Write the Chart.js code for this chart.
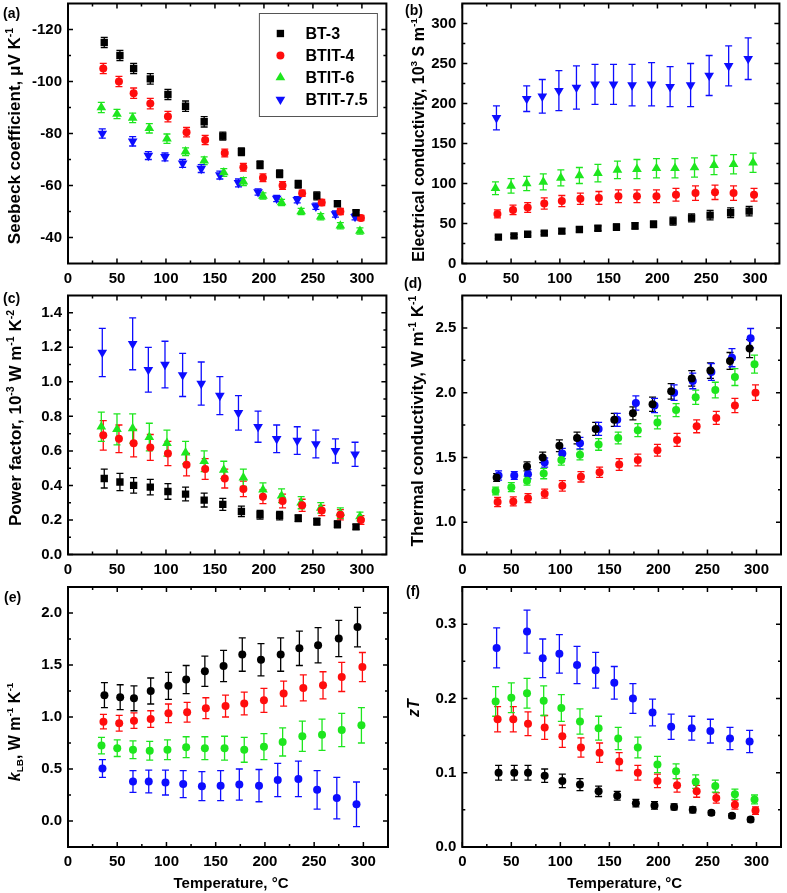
<!DOCTYPE html>
<html>
<head>
<meta charset="utf-8">
<title>Thermoelectric properties</title>
<script src="https://cdn.jsdelivr.net/npm/chart.js@4.4.1/dist/chart.umd.min.js"></script>
<style>
    body { margin: 0; background: #fff; width: 787px; height: 893px; position: relative; overflow: hidden; }
    canvas { position: absolute; }
    .tag { position: absolute; font: bold 14px/14px "Liberation Sans", Arial, sans-serif; color: #000; z-index: 5; }
</style>
</head>
<body>
<canvas id="pa"></canvas>
<canvas id="pb"></canvas>
<canvas id="pc"></canvas>
<canvas id="pd"></canvas>
<canvas id="pe"></canvas>
<canvas id="pf"></canvas>
<div class="tag" style="left:3px;top:6px">(a)</div>
<div class="tag" style="left:405px;top:3px">(b)</div>
<div class="tag" style="left:3px;top:291px">(c)</div>
<div class="tag" style="left:404px;top:276px">(d)</div>
<div class="tag" style="left:4px;top:590px">(e)</div>
<div class="tag" style="left:406px;top:584px">(f)</div>
<script>
// ========== DATA ==========
const sampleNames = ['BT-3', 'BTIT-4', 'BTIT-6', 'BTIT-7.5'];

// measurement temperatures (°C), one list per point pattern
const tempsA = [37, 53, 67, 84, 102, 120, 139, 158, 177, 196, 216, 235, 254, 275, 294];
const tempsB = [36, 52, 67, 84, 102, 121, 140, 160, 179, 199, 219, 239, 259, 278, 299];
const tempsC = [34, 50, 66, 83, 101, 120, 139, 159, 179, 199, 218, 238, 258, 278, 298];
const tempsD = [35, 66, 82, 99, 117, 136, 155, 174, 194, 213, 234, 253, 273, 293];

// tick labels
const tempTicks = [0, 50, 100, 150, 200, 250, 300];
const seebeckTicks = [-120, -100, -80, -60, -40];
const sigmaTicks = [0, 50, 100, 150, 200, 250, 300];
const pfTicks = [0, 0.2, 0.4, 0.6, 0.8, 1.0, 1.2, 1.4];
const kappaTicks = [1.0, 1.5, 2.0, 2.5];
const klbTicks = [0, 0.5, 1.0, 1.5, 2.0];
const ztTicks = [0, 0.1, 0.2, 0.3];

// (a) Seebeck coefficient
const seebeckBT3 = [-115, -110, -105, -101, -95, -90.5, -84.5, -79, -73, -68, -64.5, -60.5, -56, -53, -49.5];
const seebeckBTIT4 = [-105, -100, -95.5, -91.5, -86.5, -80.5, -77.5, -72.5, -67, -63, -60, -57, -53.5, -50, -47.5];
const seebeckBTIT6 = [-90, -87.5, -86, -82, -78, -73, -69.5, -65, -61.5, -56, -53.5, -50, -48, -44.5, -42.5];
const seebeckBTIT75 = [-80, -77, -71.5, -71, -68.5, -66.5, -64, -61, -57.5, -55, -54.5, -52, -49, -48];
const seebeckErrBT3 = [2, 2, 2, 2, 2, 2, 2, 1.5, 1.5, 1.5, 1.5, 1.5, 1.5, 1, 1];
const seebeckErrBTIT4 = [2, 2, 2, 2, 2, 1.8, 1.8, 1.5, 1.5, 1.5, 1.5, 1.2, 1.2, 1.2, 1];
const seebeckErrBTIT6 = [2, 1.8, 1.8, 1.8, 1.8, 1.5, 1.5, 1.5, 1.5, 1.2, 1.2, 1.2, 1.2, 1.2, 1.2];
const seebeckErrBTIT75 = [1.8, 1.8, 1.5, 1.5, 1.5, 1.5, 1.5, 1.5, 1.2, 1.2, 1.2, 1.2, 1.2, 1.2];

// (b) Electrical conductivity
const sigmaBT3 = [33, 34.5, 36.5, 38, 40.5, 42.5, 44, 45.5, 47, 49, 53, 57, 60.5, 63.5, 65.5];
const sigmaBTIT4 = [62, 67, 70, 75, 78, 81, 82, 84, 84, 84, 86, 88, 89, 88, 86];
const sigmaBTIT6 = [94, 97, 100, 102, 107, 110, 113, 117, 118, 119, 119, 120, 123, 124, 126];
const sigmaBTIT75 = [182, 206, 209, 216, 220, 224, 224, 223, 224, 221, 223, 235, 247, 256];
const sigmaErrBT3 = [2, 2, 2, 2, 3, 3, 3, 4, 4, 4, 5, 5, 6, 6, 6];
const sigmaErrBTIT4 = [5, 6, 6, 7, 7, 7, 8, 8, 8, 8, 8, 9, 9, 9, 8];
const sigmaErrBTIT6 = [8, 9, 9, 10, 10, 10, 11, 11, 12, 12, 12, 12, 12, 12, 12];
const sigmaErrBTIT75 = [15, 16, 21, 25, 27, 25, 25, 26, 27, 25, 27, 25, 25, 26];

// (c) Power factor
const pfBT3 = [0.44, 0.42, 0.40, 0.39, 0.365, 0.35, 0.315, 0.29, 0.25, 0.23, 0.225, 0.21, 0.19, 0.175, 0.16];
const pfBTIT4 = [0.69, 0.67, 0.645, 0.62, 0.585, 0.52, 0.495, 0.44, 0.38, 0.335, 0.31, 0.285, 0.255, 0.23, 0.20];
const pfBTIT6 = [0.74, 0.725, 0.73, 0.68, 0.645, 0.59, 0.54, 0.49, 0.445, 0.375, 0.34, 0.30, 0.27, 0.24, 0.22];
const pfBTIT75 = [1.17, 1.22, 1.07, 1.10, 1.04, 0.99, 0.92, 0.82, 0.74, 0.67, 0.66, 0.64, 0.60, 0.58];
const pfErrBT3 = [0.055, 0.05, 0.045, 0.045, 0.045, 0.04, 0.04, 0.035, 0.03, 0.025, 0.025, 0.02, 0.02, 0.02, 0.015];
const pfErrBTIT4 = [0.085, 0.08, 0.08, 0.075, 0.07, 0.065, 0.06, 0.055, 0.045, 0.04, 0.04, 0.035, 0.03, 0.03, 0.025];
const pfErrBTIT6 = [0.085, 0.09, 0.085, 0.08, 0.075, 0.065, 0.06, 0.05, 0.05, 0.04, 0.04, 0.035, 0.03, 0.03, 0.025];
const pfErrBTIT75 = [0.14, 0.15, 0.13, 0.135, 0.125, 0.125, 0.11, 0.10, 0.09, 0.08, 0.08, 0.08, 0.07, 0.07];

// (d) Thermal conductivity (black has 14 points, blue 15 in this panel)
const kappaBT3 = [1.345, 1.43, 1.50, 1.59, 1.65, 1.72, 1.79, 1.84, 1.91, 2.01, 2.11, 2.17, 2.245, 2.34];
const kappaBTIT4 = [1.155, 1.16, 1.185, 1.22, 1.28, 1.35, 1.385, 1.445, 1.48, 1.555, 1.635, 1.74, 1.805, 1.90, 2.0];
const kappaBTIT6 = [1.24, 1.27, 1.32, 1.375, 1.48, 1.52, 1.60, 1.65, 1.71, 1.77, 1.865, 1.965, 2.02, 2.12, 2.22];
const kappaBTIT75 = [1.36, 1.36, 1.37, 1.46, 1.53, 1.61, 1.72, 1.79, 1.92, 1.90, 2.0, 2.09, 2.16, 2.27, 2.42];
const kappaErrBT3 = [0.03, 0.035, 0.04, 0.045, 0.045, 0.05, 0.05, 0.05, 0.055, 0.06, 0.06, 0.06, 0.065, 0.07];
const kappaErrBTIT4 = [0.035, 0.035, 0.035, 0.035, 0.04, 0.04, 0.04, 0.045, 0.045, 0.045, 0.05, 0.05, 0.05, 0.055, 0.06];
const kappaErrBTIT6 = [0.03, 0.035, 0.035, 0.04, 0.04, 0.04, 0.045, 0.045, 0.05, 0.05, 0.05, 0.055, 0.06, 0.065, 0.07];
const kappaErrBTIT75 = [0.035, 0.03, 0.035, 0.035, 0.04, 0.045, 0.05, 0.05, 0.055, 0.055, 0.06, 0.06, 0.065, 0.07, 0.075];

// (e) Lattice + bipolar thermal conductivity
const klbBT3 = [1.21, 1.19, 1.18, 1.25, 1.30, 1.36, 1.44, 1.49, 1.60, 1.55, 1.60, 1.66, 1.69, 1.755, 1.865];
const klbBTIT4 = [0.955, 0.94, 0.965, 0.98, 1.035, 1.045, 1.085, 1.105, 1.13, 1.16, 1.225, 1.28, 1.305, 1.385, 1.48];
const klbBTIT6 = [0.725, 0.70, 0.685, 0.675, 0.685, 0.71, 0.70, 0.70, 0.685, 0.715, 0.76, 0.815, 0.83, 0.875, 0.92];
const klbBTIT75 = [0.505, 0.38, 0.38, 0.37, 0.355, 0.335, 0.34, 0.35, 0.34, 0.395, 0.405, 0.30, 0.22, 0.16];
const klbErrBT3 = [0.12, 0.12, 0.12, 0.125, 0.13, 0.135, 0.145, 0.15, 0.16, 0.155, 0.16, 0.165, 0.17, 0.175, 0.19];
const klbErrBTIT4 = [0.07, 0.075, 0.075, 0.08, 0.09, 0.095, 0.1, 0.105, 0.11, 0.115, 0.12, 0.125, 0.13, 0.14, 0.14];
const klbErrBTIT6 = [0.08, 0.08, 0.085, 0.09, 0.095, 0.1, 0.11, 0.115, 0.12, 0.125, 0.135, 0.145, 0.15, 0.16, 0.17];
const klbErrBTIT75 = [0.085, 0.105, 0.11, 0.12, 0.13, 0.14, 0.145, 0.15, 0.155, 0.16, 0.17, 0.185, 0.2, 0.215];

// (f) Figure of merit zT
const ztBT3 = [0.10, 0.10, 0.10, 0.096, 0.089, 0.084, 0.075, 0.069, 0.059, 0.056, 0.054, 0.05, 0.046, 0.042, 0.037];
const ztBTIT4 = [0.172, 0.172, 0.166, 0.161, 0.149, 0.134, 0.127, 0.115, 0.10, 0.089, 0.083, 0.075, 0.066, 0.057, 0.049];
const ztBTIT6 = [0.196, 0.201, 0.207, 0.197, 0.187, 0.169, 0.16, 0.146, 0.134, 0.111, 0.102, 0.088, 0.082, 0.071, 0.064];
const ztBTIT75 = [0.268, 0.29, 0.254, 0.26, 0.245, 0.238, 0.221, 0.20, 0.181, 0.162, 0.16, 0.156, 0.146, 0.142];
const ztErrBT3 = [0.01, 0.01, 0.01, 0.009, 0.009, 0.008, 0.007, 0.006, 0.005, 0.005, 0.004, 0.004, 0.003, 0.003, 0.003];
const ztErrBTIT4 = [0.017, 0.017, 0.016, 0.016, 0.015, 0.013, 0.013, 0.012, 0.01, 0.009, 0.009, 0.008, 0.007, 0.006, 0.005];
const ztErrBTIT6 = [0.02, 0.02, 0.02, 0.02, 0.018, 0.017, 0.016, 0.015, 0.014, 0.011, 0.01, 0.009, 0.008, 0.007, 0.006];
const ztErrBTIT75 = [0.027, 0.029, 0.026, 0.026, 0.025, 0.024, 0.022, 0.02, 0.018, 0.017, 0.016, 0.016, 0.015, 0.015];

// ========== STYLE ==========
const FONT = '"Liberation Sans", Arial, sans-serif';
const colors = ['#000000', '#ff0d0d', '#1ee61e', '#0d0dff'];

Chart.defaults.font.family = FONT;
Chart.defaults.color = '#000';

function series(idx, temps, values, errors, marker) {
    const style = {
        square: { pointStyle: 'rect', rotation: 0, pointRadius: 5.2 },
        circle: { pointStyle: 'circle', rotation: 0, pointRadius: 4 },
        up: { pointStyle: 'triangle', rotation: 0, pointRadius: 5.6 },
        down: { pointStyle: 'triangle', rotation: 180, pointRadius: 5.6 }
    }[marker];
    return {
        label: sampleNames[idx],
        data: values.map((v, i) => ({ x: temps[i], y: v })),
        errors: errors,
        showLine: false,
        backgroundColor: colors[idx],
        borderColor: colors[idx],
        borderWidth: 0,
        pointBorderWidth: 0,
        pointHoverRadius: style.pointRadius,
        ...style
    };
}

// draw text with super/subscripts, optionally rotated (bottom-to-top)
function drawRich(ctx, segs, size, cx, cy, vertical) {
    const fontFor = s => (s.it ? 'italic ' : '') + 'bold ' + (s.sup || s.sub ? size * 0.62 : size) + 'px ' + FONT;
    let total = 0;
    segs.forEach(s => { ctx.font = fontFor(s); total += ctx.measureText(s.t).width; });
    ctx.save();
    ctx.translate(cx, cy);
    if (vertical) ctx.rotate(-Math.PI / 2);
    ctx.fillStyle = '#000';
    ctx.textBaseline = 'alphabetic';
    ctx.textAlign = 'left';
    let x = -total / 2;
    const base = size * 0.36;
    segs.forEach(s => {
        ctx.font = fontFor(s);
        let y = base;
        if (s.sup) y -= size * 0.4;
        if (s.sub) y += size * 0.22;
        ctx.fillText(s.t, x, y);
        x += ctx.measureText(s.t).width;
    });
    ctx.restore();
}

function tickValues(scale) {
    const major = scale.ticks.map(t => t.value).sort((a, b) => a - b);
    const step = major[1] - major[0];
    const minor = [];
    for (let v = major[0] - step / 2; v <= scale.max + 1e-9; v += step) {
        if (v > scale.min + 1e-9 && v < scale.max - 1e-9) minor.push(v);
    }
    return { major, minor };
}

const framePlugin = {
    id: 'frame',
    beforeDatasetsDraw(chart) {
        // error bars, drawn under the markers
        const ctx = chart.ctx, xs = chart.scales.x, ys = chart.scales.y;
        ctx.save();
        ctx.lineWidth = 1.3;
        chart.data.datasets.forEach(ds => {
            ctx.strokeStyle = ds.borderColor;
            ds.data.forEach((p, i) => {
                const e = ds.errors[i];
                const px = xs.getPixelForValue(p.x);
                const y1 = ys.getPixelForValue(p.y - e);
                const y2 = ys.getPixelForValue(p.y + e);
                ctx.beginPath();
                ctx.moveTo(px, y1); ctx.lineTo(px, y2);
                ctx.moveTo(px - 3.5, y1); ctx.lineTo(px + 3.5, y1);
                ctx.moveTo(px - 3.5, y2); ctx.lineTo(px + 3.5, y2);
                ctx.stroke();
            });
        });
        ctx.restore();
    },
    afterDraw(chart, args, opts) {
        const ctx = chart.ctx, a = chart.chartArea;
        ctx.save();
        ctx.strokeStyle = '#000';

        // inward ticks on all four sides
        ctx.lineWidth = 1.5;
        const tx = tickValues(chart.scales.x), ty = tickValues(chart.scales.y);
        ctx.beginPath();
        [[tx.major, 5], [tx.minor, 3]].forEach(([vals, len]) => vals.forEach(v => {
            const px = chart.scales.x.getPixelForValue(v);
            ctx.moveTo(px, a.bottom); ctx.lineTo(px, a.bottom - len);
            ctx.moveTo(px, a.top); ctx.lineTo(px, a.top + len);
        }));
        [[ty.major, 5], [ty.minor, 3]].forEach(([vals, len]) => vals.forEach(v => {
            const py = chart.scales.y.getPixelForValue(v);
            ctx.moveTo(a.left, py); ctx.lineTo(a.left + len, py);
            ctx.moveTo(a.right, py); ctx.lineTo(a.right - len, py);
        }));
        ctx.stroke();

        // frame
        ctx.lineWidth = 2;
        ctx.strokeRect(a.left, a.top, a.right - a.left, a.bottom - a.top);
        ctx.restore();

        // axis titles (positions in page pixels)
        const pos = chart.canvas.getBoundingClientRect();
        drawRich(ctx, opts.yTitle, opts.yTitleSize, opts.yTitleAt[0] - pos.left, opts.yTitleAt[1] - pos.top, true);
        if (opts.xTitle) {
            drawRich(ctx, opts.xTitle, 15, (a.left + a.right) / 2 + 3, a.bottom + 36, false);
        }

        // legend box inside the plot
        if (opts.legend) {
            const bw = 118, bh = 103;
            const bx = a.right - 9 - bw, by = a.top + 10;
            ctx.save();
            ctx.strokeStyle = '#555';
            ctx.lineWidth = 1;
            ctx.strokeRect(bx, by, bw, bh);
            ctx.font = 'bold 16px ' + FONT;
            ctx.textBaseline = 'middle';
            chart.data.datasets.forEach((ds, i) => {
                const rowY = by + 20 + i * 22;
                ctx.fillStyle = ds.backgroundColor;
                Chart.helpers.drawPoint(ctx, { pointStyle: ds.pointStyle, rotation: ds.rotation, radius: ds.pointRadius, borderWidth: 0 }, bx + 21, rowY);
                ctx.fillStyle = '#000';
                ctx.fillText(ds.label, bx + 46, rowY + 1);
            });
            ctx.restore();
        }
    }
};

// ========== PANELS ==========
const LEFT_COL = { canvasLeft: 0, canvasWidth: 392, plotLeft: 68, plotRight: 389.3 };
const RIGHT_COL = { canvasLeft: 390, canvasWidth: 395, plotLeft: 462.3, plotRight: 782.3 };
const ROWS = [
    { plotTop: 3.5, plotBottom: 263.5, below: 40 },
    { plotTop: 295.5, plotBottom: 554.5, below: 40 },
    { plotTop: 587, plotBottom: 847, below: 46 }
];
const temperatureTitle = [{ t: 'Temperature, °C' }];

const panels = [
    {
        id: 'pa', col: LEFT_COL, row: ROWS[0],
        y: { min: -130, max: -30, ticks: seebeckTicks, reverse: true, dec: 0 },
        yTitle: [{ t: 'Seebeck coefficient, μV K' }, { t: '-1', sup: true }], yTitleSize: 17, yTitleAt: [14, 136],
        legend: true,
        datasets: [
            series(0, tempsA, seebeckBT3, seebeckErrBT3, 'square'),
            series(1, tempsB, seebeckBTIT4, seebeckErrBTIT4, 'circle'),
            series(2, tempsC, seebeckBTIT6, seebeckErrBTIT6, 'up'),
            series(3, tempsD, seebeckBTIT75, seebeckErrBTIT75, 'down')
        ]
    },
    {
        id: 'pb', col: RIGHT_COL, row: ROWS[0],
        y: { min: 0, max: 325, ticks: sigmaTicks, dec: 0 },
        yTitle: [{ t: 'Electrical conductivity, 10' }, { t: '3', sup: true }, { t: ' S m' }, { t: '-1', sup: true }], yTitleSize: 16, yTitleAt: [418, 140],
        datasets: [
            series(0, tempsA, sigmaBT3, sigmaErrBT3, 'square'),
            series(1, tempsB, sigmaBTIT4, sigmaErrBTIT4, 'circle'),
            series(2, tempsC, sigmaBTIT6, sigmaErrBTIT6, 'up'),
            series(3, tempsD, sigmaBTIT75, sigmaErrBTIT75, 'down')
        ]
    },
    {
        id: 'pc', col: LEFT_COL, row: ROWS[1],
        y: { min: 0, max: 1.5, ticks: pfTicks, dec: 1 },
        yTitle: [{ t: 'Power factor, 10' }, { t: '-3', sup: true }, { t: ' W m' }, { t: '-1', sup: true }, { t: ' K' }, { t: '-2', sup: true }], yTitleSize: 17, yTitleAt: [15, 418],
        datasets: [
            series(0, tempsA, pfBT3, pfErrBT3, 'square'),
            series(1, tempsB, pfBTIT4, pfErrBTIT4, 'circle'),
            series(2, tempsC, pfBTIT6, pfErrBTIT6, 'up'),
            series(3, tempsD, pfBTIT75, pfErrBTIT75, 'down')
        ]
    },
    {
        id: 'pd', col: RIGHT_COL, row: ROWS[1],
        y: { min: 0.75, max: 2.75, ticks: kappaTicks, dec: 1 },
        yTitle: [{ t: 'Thermal conductivity, W m' }, { t: '-1', sup: true }, { t: ' K' }, { t: '-1', sup: true }], yTitleSize: 17, yTitleAt: [417, 421],
        datasets: [
            series(0, tempsD, kappaBT3, kappaErrBT3, 'circle'),
            series(1, tempsB, kappaBTIT4, kappaErrBTIT4, 'circle'),
            series(2, tempsC, kappaBTIT6, kappaErrBTIT6, 'circle'),
            series(3, tempsA, kappaBTIT75, kappaErrBTIT75, 'circle')
        ]
    },
    {
        id: 'pe', col: LEFT_COL, row: ROWS[2],
        y: { min: -0.25, max: 2.25, ticks: klbTicks, dec: 1 },
        yTitle: [{ t: 'k', it: true }, { t: 'LB', sub: true }, { t: ', W m' }, { t: '-1', sup: true }, { t: ' K' }, { t: '-1', sup: true }], yTitleSize: 16, yTitleAt: [14, 732],
        xTitle: temperatureTitle,
        datasets: [
            series(0, tempsA, klbBT3, klbErrBT3, 'circle'),
            series(1, tempsB, klbBTIT4, klbErrBTIT4, 'circle'),
            series(2, tempsC, klbBTIT6, klbErrBTIT6, 'circle'),
            series(3, tempsD, klbBTIT75, klbErrBTIT75, 'circle')
        ]
    },
    {
        id: 'pf', col: RIGHT_COL, row: ROWS[2],
        y: { min: 0, max: 0.35, ticks: ztTicks, dec: 1 },
        yTitle: [{ t: 'zT', it: true }], yTitleSize: 16, yTitleAt: [413, 708],
        xTitle: temperatureTitle,
        datasets: [
            series(0, tempsA, ztBT3, ztErrBT3, 'circle'),
            series(1, tempsB, ztBTIT4, ztErrBTIT4, 'circle'),
            series(2, tempsC, ztBTIT6, ztErrBTIT6, 'circle'),
            series(3, tempsD, ztBTIT75, ztErrBTIT75, 'circle')
        ]
    }
];

const tickFont = { family: FONT, size: 15, weight: 'bold' };

panels.forEach(p => {
    const canvas = document.getElementById(p.id);
    const canvasTop = Math.floor(p.row.plotTop) - 24;
    const canvasHeight = Math.min(893, Math.ceil(p.row.plotBottom + p.row.below)) - canvasTop;
    canvas.width = p.col.canvasWidth;
    canvas.height = canvasHeight;
    canvas.style.left = p.col.canvasLeft + 'px';
    canvas.style.top = canvasTop + 'px';
    canvas.style.width = p.col.canvasWidth + 'px';
    canvas.style.height = canvasHeight + 'px';

    const padTop = p.row.plotTop - canvasTop;
    const xHeight = canvasHeight - (p.row.plotBottom - canvasTop);
    const yWidth = p.col.plotLeft - p.col.canvasLeft;
    const padRight = p.col.canvasLeft + p.col.canvasWidth - p.col.plotRight;

    new Chart(canvas, {
        type: 'scatter',
        data: { datasets: p.datasets },
        options: {
            responsive: false,
            animation: false,
            events: [],
            layout: { padding: { top: padTop, right: padRight, left: 0, bottom: 0 } },
            plugins: {
                legend: { display: false },
                tooltip: { enabled: false },
                frame: { yTitle: p.yTitle, yTitleSize: p.yTitleSize, yTitleAt: p.yTitleAt, xTitle: p.xTitle, legend: !!p.legend }
            },
            scales: {
                x: {
                    type: 'linear', position: 'bottom', min: 0, max: 325,
                    afterBuildTicks: s => { s.ticks = tempTicks.map(v => ({ value: v })); },
                    afterFit: s => { s.height = xHeight; },
                    grid: { display: false, drawTicks: false },
                    border: { display: false },
                    ticks: { padding: 6, color: '#000', font: tickFont, maxRotation: 0, autoSkip: false }
                },
                y: {
                    type: 'linear', position: 'left', min: p.y.min, max: p.y.max, reverse: !!p.y.reverse,
                    afterBuildTicks: s => { s.ticks = p.y.ticks.map(v => ({ value: v })); },
                    afterFit: s => { s.width = yWidth; },
                    grid: { display: false, drawTicks: false },
                    border: { display: false },
                    ticks: {
                        padding: 6, color: '#000', font: tickFont, autoSkip: false,
                        callback: v => p.y.dec ? v.toFixed(p.y.dec) : String(Math.round(v))
                    }
                }
            }
        },
        plugins: [framePlugin]
    });
});
</script>
</body>
</html>
